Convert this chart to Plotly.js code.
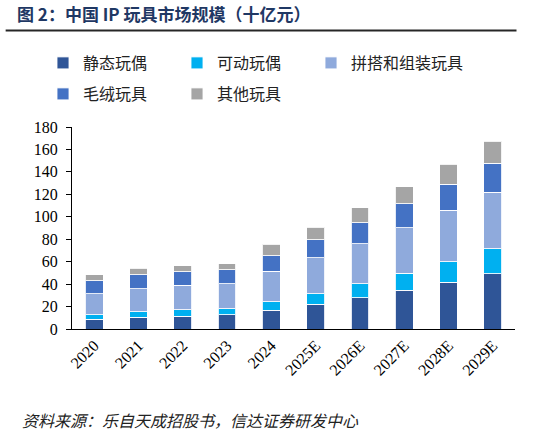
<!DOCTYPE html>
<html>
<head>
<meta charset="utf-8">
<script src="https://cdn.plot.ly/plotly-3.0.1.min.js"></script>
<style>html,body{margin:0;padding:0;background:#fff;}#chart{width:555px;height:435px;}</style>
</head>
<body>
<div id="chart"></div>
<script>
const years = ['2020','2021','2022','2023','2024','2025E','2026E','2027E','2028E','2029E'];
const seriesNames = ['静态玩偶','可动玩偶','拼搭和组装玩具','毛绒玩具','其他玩具'];
const staticDolls  = [8.7, 10.4, 11.3, 12.8, 16.7, 22.0, 27.9, 34.6, 41.7, 49.4];
const actionDolls  = [4.1, 5.1, 5.7, 5.3, 7.7, 9.5, 12.5, 15.1, 18.4, 22.3];
const buildingToys = [18.4, 20.5, 22.0, 22.1, 27.0, 31.9, 35.5, 40.7, 45.5, 50.0];
const plushToys    = [11.7, 12.2, 11.9, 12.5, 14.0, 16.1, 18.7, 21.2, 23.2, 26.2];
const otherToys    = [5.3, 6.0, 5.6, 5.6, 10.0, 11.3, 13.4, 15.2, 17.9, 19.3];
const yTicks = [0,20,40,60,80,100,120,140,160,180];

const colors = ['#2F5597','#00B0F0','#8FAADC','#4472C4','#A5A5A5'];
const allSeries = [staticDolls, actionDolls, buildingToys, plushToys, otherToys];
const legendOf = ['legend','legend','legend3','legend2','legend2'];

const traces = allSeries.map((vals, i) => ({
  type: 'bar',
  name: seriesNames[i],
  x: years,
  y: vals,
  legend: legendOf[i],
  marker: {color: colors[i], line: {color: 'rgba(255,255,255,0.85)', width: 1}},
  hoverinfo: 'x+y+name'
}));

const L = 71.5, R = 515.5, T = 127.3, B = 329;
const pw = R - L, ph = B - T;
const px = v => (v - L) / pw;
const py = v => (B - v) / ph;

const legendFont = {family: '"Noto Sans CJK SC", sans-serif', size: 16, color: '#222'};
const legX = 43;
function mkLegend(xPix, yPix) {
  return {
    orientation: 'h', xref: 'container', yref: 'container',
    x: xPix/555, xanchor: 'left', y: 1 - yPix/435, yanchor: 'middle',
    entrywidth: 89, entrywidthmode: 'pixels',
    font: legendFont, bgcolor: 'rgba(0,0,0,0)', traceorder: 'normal'
  };
}
const tickFont = {family: '"Liberation Serif", "Times New Roman", serif', size: 16, color: '#000'};

const layout = {
  width: 555, height: 435,
  margin: {l: L, r: 555 - R, t: T, b: 435 - B, pad: 0},
  paper_bgcolor: '#fff', plot_bgcolor: '#fff',
  barmode: 'stack',
  bargap: 0.6,
  showlegend: true,
  title: {
    text: '图 2：中国 IP 玩具市场规模（十亿元）',
    font: {family: '"Noto Sans CJK SC", sans-serif', size: 17, color: '#1F3864', weight: 'bold'},
    x: 17/555, xanchor: 'left', xref: 'container',
    y: 1 - 15/435, yanchor: 'middle', yref: 'container'
  },
  xaxis: {
    type: 'category',
    showline: true, linecolor: '#000', linewidth: 1,
    ticks: '', tickangle: -45,
    tickfont: tickFont,
    showgrid: false, zeroline: false, fixedrange: true
  },
  yaxis: {
    range: [0, 180],
    tickvals: yTicks, ticktext: yTicks.map(String),
    showline: true, linecolor: '#000', linewidth: 1,
    ticks: 'outside', ticklen: 5, tickcolor: '#000', tickwidth: 1,
    ticklabelstandoff: 5,
    tickfont: tickFont,
    showgrid: false, zeroline: false, fixedrange: true
  },
  legend: mkLegend(legX, 63),
  legend2: mkLegend(legX, 94),
  legend3: Object.assign(mkLegend(legX + 268, 63), {entrywidth: 0}),
  shapes: [{
    type: 'line', xref: 'paper', yref: 'paper',
    x0: px(5), x1: px(517), y0: py(31), y1: py(31),
    line: {color: '#262626', width: 2}
  }],
  annotations: [{
    xref: 'paper', yref: 'paper', x: px(19), y: py(420),
    xanchor: 'left', yanchor: 'middle', showarrow: false,
    text: '<i>资料来源：乐自天成招股书，信达证券研发中心</i>',
    font: {family: '"Noto Sans CJK SC", sans-serif', size: 16, color: '#222', style: 'italic'}
  }]
};

Plotly.newPlot('chart', traces, layout, {displayModeBar: false, staticPlot: true});
</script>
</body>
</html>
